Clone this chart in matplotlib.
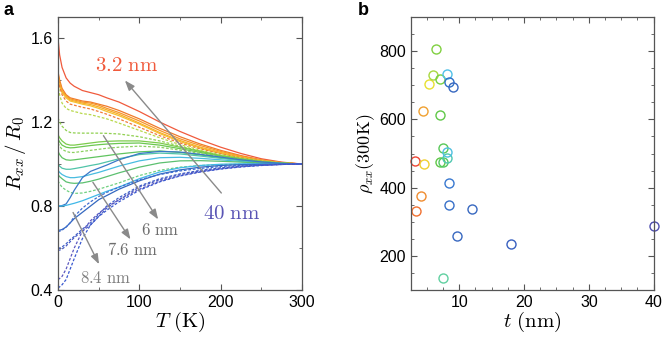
import matplotlib
matplotlib.use("Agg")
import matplotlib.pyplot as plt
from matplotlib.ticker import MultipleLocator

plt.rcParams['font.family'] = ['Liberation Sans', 'DejaVu Sans']
plt.rcParams['mathtext.fontset'] = 'cm'

# ---- panel a: R_xx/R_0 vs T ----
T = [0, 2, 5, 10, 15, 20, 30, 40, 50, 60, 75, 100, 125, 150, 175, 200, 225, 250, 275, 300]

curves = [
    # (style, color, values)
    ('-', '#f05a3c', [1.60, 1.52, 1.46, 1.41, 1.385, 1.37, 1.35, 1.34, 1.33, 1.315, 1.295, 1.25, 1.20, 1.155, 1.115, 1.08, 1.05, 1.025, 1.009, 1.0]),
    ('-', '#f07a2a', [1.44, 1.40, 1.36, 1.33, 1.315, 1.31, 1.30, 1.295, 1.285, 1.275, 1.255, 1.215, 1.17, 1.13, 1.095, 1.065, 1.04, 1.02, 1.007, 1.0]),
    ('-', '#f5962a', [1.43, 1.39, 1.35, 1.325, 1.31, 1.305, 1.295, 1.29, 1.28, 1.265, 1.245, 1.205, 1.16, 1.12, 1.088, 1.06, 1.037, 1.018, 1.006, 1.0]),
    ('-', '#f8ab2a', [1.42, 1.38, 1.345, 1.32, 1.305, 1.30, 1.29, 1.283, 1.272, 1.258, 1.237, 1.195, 1.15, 1.112, 1.08, 1.055, 1.034, 1.017, 1.006, 1.0]),
    ('-', '#f5c030', [1.41, 1.37, 1.34, 1.315, 1.30, 1.295, 1.285, 1.277, 1.265, 1.25, 1.23, 1.19, 1.145, 1.107, 1.076, 1.052, 1.032, 1.016, 1.005, 1.0]),
    ('--', '#f07a3a', [1.42, 1.37, 1.33, 1.30, 1.285, 1.28, 1.27, 1.262, 1.25, 1.237, 1.215, 1.175, 1.135, 1.10, 1.072, 1.049, 1.03, 1.015, 1.005, 1.0]),
    ('--', '#b8d84a', [1.38, 1.33, 1.29, 1.265, 1.255, 1.25, 1.24, 1.235, 1.225, 1.215, 1.195, 1.16, 1.125, 1.092, 1.066, 1.045, 1.028, 1.014, 1.005, 1.0]),
    ('--', '#90d050', [1.22, 1.20, 1.18, 1.16, 1.15, 1.148, 1.147, 1.147, 1.147, 1.146, 1.143, 1.13, 1.11, 1.085, 1.062, 1.042, 1.026, 1.013, 1.004, 1.0]),
    ('-', '#7ccc4c', [1.14, 1.125, 1.11, 1.095, 1.09, 1.09, 1.095, 1.10, 1.105, 1.108, 1.11, 1.11, 1.10, 1.08, 1.06, 1.04, 1.025, 1.012, 1.004, 1.0]),
    ('-', '#6cc850', [1.12, 1.105, 1.09, 1.08, 1.077, 1.078, 1.083, 1.088, 1.092, 1.095, 1.098, 1.10, 1.09, 1.073, 1.055, 1.037, 1.023, 1.011, 1.004, 1.0]),
    ('--', '#8cd060', [1.10, 1.085, 1.07, 1.06, 1.055, 1.055, 1.06, 1.065, 1.07, 1.075, 1.08, 1.085, 1.08, 1.066, 1.05, 1.034, 1.021, 1.01, 1.003, 1.0]),
    ('-', '#60c460', [1.06, 1.045, 1.03, 1.02, 1.018, 1.02, 1.025, 1.03, 1.035, 1.04, 1.048, 1.058, 1.062, 1.055, 1.043, 1.03, 1.018, 1.009, 1.003, 1.0]),
    ('-', '#50c4a8', [1.00, 0.99, 0.98, 0.975, 0.975, 0.978, 0.985, 0.993, 1.00, 1.01, 1.025, 1.045, 1.052, 1.048, 1.038, 1.027, 1.016, 1.008, 1.002, 1.0]),
    ('-', '#48bce0', [0.97, 0.96, 0.95, 0.94, 0.935, 0.935, 0.94, 0.95, 0.96, 0.972, 0.99, 1.015, 1.03, 1.032, 1.027, 1.02, 1.012, 1.006, 1.002, 1.0]),
    ('-', '#5cc070', [0.95, 0.94, 0.93, 0.915, 0.91, 0.908, 0.91, 0.918, 0.928, 0.94, 0.958, 0.985, 1.005, 1.015, 1.016, 1.013, 1.009, 1.005, 1.002, 1.0]),
    ('--', '#70d080', [0.92, 0.905, 0.89, 0.875, 0.865, 0.86, 0.862, 0.87, 0.88, 0.892, 0.91, 0.945, 0.97, 0.985, 0.993, 0.997, 0.999, 1.0, 1.0, 1.0]),
    ('-', '#3a78c8', [0.80, 0.80, 0.802, 0.81, 0.84, 0.875, 0.935, 0.965, 0.98, 0.995, 1.02, 1.05, 1.06, 1.057, 1.046, 1.033, 1.02, 1.01, 1.003, 1.0]),
    ('-', '#40b8e8', [0.80, 0.80, 0.80, 0.803, 0.808, 0.813, 0.825, 0.84, 0.855, 0.87, 0.89, 0.93, 0.962, 0.982, 0.993, 0.999, 1.001, 1.001, 1.0, 1.0]),
    ('-', '#3468c0', [0.685, 0.685, 0.688, 0.70, 0.72, 0.74, 0.77, 0.80, 0.83, 0.85, 0.88, 0.92, 0.952, 0.972, 0.985, 0.993, 0.997, 0.999, 1.0, 1.0]),
    ('--', '#3e6cd0', [0.68, 0.68, 0.685, 0.70, 0.72, 0.75, 0.79, 0.82, 0.845, 0.865, 0.89, 0.925, 0.95, 0.967, 0.979, 0.988, 0.994, 0.997, 0.999, 1.0]),
    ('--', '#4060c8', [0.60, 0.60, 0.605, 0.62, 0.64, 0.655, 0.69, 0.72, 0.76, 0.80, 0.84, 0.895, 0.93, 0.953, 0.97, 0.982, 0.99, 0.995, 0.998, 1.0]),
    ('--', '#4a5cc4', [0.59, 0.59, 0.595, 0.61, 0.63, 0.65, 0.68, 0.71, 0.75, 0.79, 0.83, 0.89, 0.925, 0.95, 0.967, 0.98, 0.989, 0.995, 0.998, 1.0]),
    ('--', '#5c58c0', [0.45, 0.455, 0.465, 0.50, 0.55, 0.60, 0.68, 0.73, 0.765, 0.795, 0.83, 0.88, 0.918, 0.945, 0.963, 0.977, 0.987, 0.994, 0.998, 1.0]),
    ('--', '#3858d0', [0.41, 0.415, 0.425, 0.45, 0.50, 0.55, 0.645, 0.71, 0.75, 0.78, 0.82, 0.875, 0.915, 0.943, 0.962, 0.976, 0.986, 0.993, 0.998, 1.0]),
]

# ---- panel b: rho_xx(300K) vs thickness ----
t_nm = [3.18, 3.34, 4.06, 4.46, 4.57, 5.4, 6.0, 6.4, 7.03, 7.03, 7.03, 7.54, 7.54,
        8.06, 8.06, 8.06, 7.54, 8.46, 8.98, 8.46, 8.46, 12.0, 9.65, 18.0, 40.0]
rho = [477, 331, 375, 626, 470, 703, 729, 805, 718, 612, 475, 475, 517,
       487, 504, 734, 134, 710, 694, 413, 349, 336, 257, 236, 288]
pt_colors = ['#ee4433', '#f07030', '#f08c30', '#f0a030', '#f0d030', '#e8e030', '#a8d840',
             '#80d040', '#78d040', '#60c848', '#60c848', '#50c860', '#58c858',
             '#50c8b0', '#50c0e0', '#50c0e8', '#60d0a0', '#3070c8', '#3868c0',
             '#3878d0', '#3870c8', '#3868c0', '#3868c0', '#3860c0', '#5050b0']

fig = plt.figure(figsize=(6.65, 3.4), dpi=100, facecolor='white')
ax1 = fig.add_axes([0.0872, 0.147, 0.367, 0.803])
ax2 = fig.add_axes([0.618, 0.147, 0.365, 0.803])

for ls, c, vals in curves:
    if ls == '--':
        ax1.plot(T, vals, color=c, lw=0.9, ls=(0, (2.2, 1.4)))
    else:
        ax1.plot(T, vals, color=c, lw=0.9)

arrow_kw = dict(arrowstyle='-|>,head_length=0.6,head_width=0.22', color='#8a8a8a', lw=1.0)
ax1.annotate('', xy=(80, 1.408), xytext=(203, 0.852), arrowprops=arrow_kw)
ax1.annotate('', xy=(125, 0.725), xytext=(54, 1.146), arrowprops=arrow_kw)
ax1.annotate('', xy=(91, 0.63), xytext=(41, 0.924), arrowprops=arrow_kw)
ax1.annotate('', xy=(52, 0.511), xytext=(17, 0.781), arrowprops=arrow_kw)

ax1.text(84, 1.471, r'$\mathrm{3.2\ nm}$', color='#f05a3c', fontsize=15, ha='center', va='center')
ax1.text(214, 0.765, r'$\mathrm{40\ nm}$', color='#5a55b5', fontsize=15, ha='center', va='center')
ax1.text(125, 0.686, r'$\mathrm{6\ nm}$', color='#6e6e6e', fontsize=12, ha='center', va='center')
ax1.text(92, 0.594, r'$\mathrm{7.6\ nm}$', color='#6e6e6e', fontsize=12, ha='center', va='center')
ax1.text(58, 0.456, r'$\mathrm{8.4\ nm}$', color='#808080', fontsize=12, ha='center', va='center')

ax1.set_xlim(0, 300)
ax1.set_ylim(0.4, 1.7)
ax1.xaxis.set_major_locator(MultipleLocator(100))
ax1.xaxis.set_minor_locator(MultipleLocator(50))
ax1.yaxis.set_major_locator(MultipleLocator(0.4))
ax1.yaxis.set_minor_locator(MultipleLocator(0.2))
ax1.set_xlabel(r'$T\ \mathrm{(K)}$', fontsize=15, labelpad=0)
ax1.set_ylabel(r'$R_{xx}\,/\,R_0$', fontsize=15, labelpad=2)

for t, r, c in zip(t_nm, rho, pt_colors):
    ax2.plot(t, r, 'o', mfc='none', mec=c, ms=6.5, mew=1.0, clip_on=False)

ax2.set_xlim(2.55, 40)
ax2.set_ylim(100, 900)
ax2.xaxis.set_major_locator(MultipleLocator(10))
ax2.xaxis.set_minor_locator(MultipleLocator(2.5))
ax2.yaxis.set_major_locator(MultipleLocator(200))
ax2.yaxis.set_minor_locator(MultipleLocator(50))
ax2.set_xlabel(r'$t\ \mathrm{(nm)}$', fontsize=15, labelpad=0)
ax2.set_ylabel(r'$\rho_{xx}\mathrm{(300K)}$', fontsize=13, labelpad=2)

for ax in (ax1, ax2):
    ax.tick_params(which='both', direction='in', top=True, right=True, labelsize=11.5, color='#555555')
    ax.tick_params(which='major', length=4)
    ax.tick_params(which='minor', length=2)
    for s in ax.spines.values():
        s.set_color('#555555')
        s.set_linewidth(0.9)

fig.text(0.005, 0.955, 'a', fontsize=13, fontweight='bold')
fig.text(0.538, 0.955, 'b', fontsize=13, fontweight='bold')

fig.savefig('out.png', dpi=100, facecolor='white')
